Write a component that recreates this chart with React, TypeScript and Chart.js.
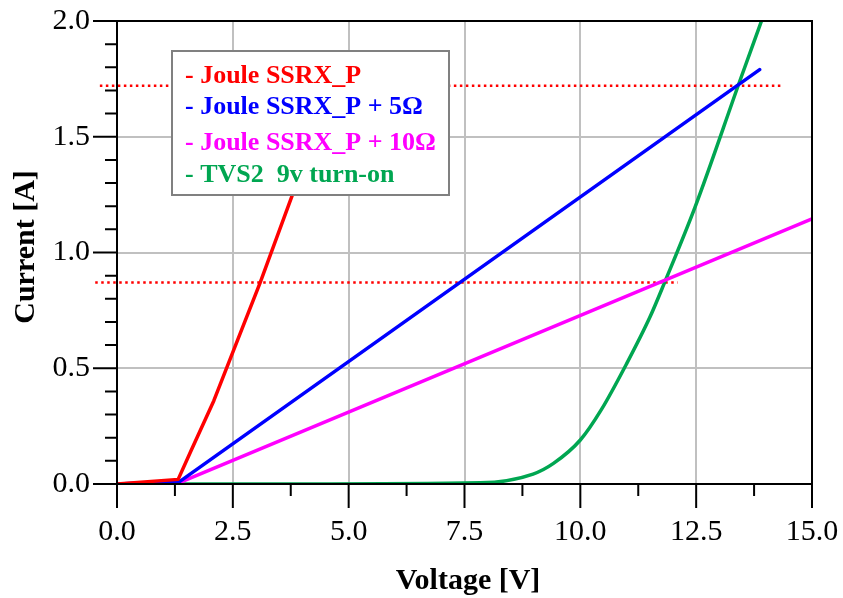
import React, { useEffect, useRef } from 'react';
import { Chart, registerables } from 'chart.js';

Chart.register(...registerables);

// ---- Data (Voltage [V] vs Current [A]) ----
const redV = [0, 1.32, 1.6, 2.09, 2.6, 3.09, 3.77, 4.6];
const redI = [0, 0.02, 0.145, 0.36, 0.62, 0.87, 1.24, 1.7];

const blueV = [0, 1.35, 13.87];
const blueI = [0, 0.01, 1.79];

const magentaV = [0, 1.4, 15.0];
const magentaI = [0, 0.01, 1.145];

const greenV = [0, 4.0, 7.84, 8.98, 9.42, 10.0, 10.45, 11.0, 11.5, 11.82, 12.48, 13.45, 13.91];
const greenI = [0, 0, 0.005, 0.043, 0.089, 0.19, 0.32, 0.52, 0.72, 0.871, 1.198, 1.745, 2.0];

// dotted reference levels
const refHighV = [-0.37, 14.38];
const refHighI = [1.72, 1.72];
const refLowV = [-0.47, 12.1];
const refLowI = [0.87, 0.87];

const legendLabels = [
  '- Joule SSRX_P',
  '- Joule SSRX_P + 5\u03A9',
  '- Joule SSRX_P + 10\u03A9',
  '- TVS2  9v turn-on',
];

const RED = '#ff0000';
const BLUE = '#0000ff';
const MAGENTA = '#ff00ff';
const GREEN = '#00a651';
const legendColors = [RED, BLUE, MAGENTA, GREEN];

const X_MIN = 0, X_MAX = 15, X_MAJOR = 2.5, X_MINOR = 1.25;
const Y_MIN = 0, Y_MAX = 2.0, Y_MAJOR = 0.5, Y_MINOR = 0.1;

const SERIF = '"Liberation Serif", "Times New Roman", serif';

const isMult = (v: number, s: number) => Math.abs(v / s - Math.round(v / s)) < 1e-6;

const pts = (xs: number[], ys: number[]) => xs.map((x, i) => ({ x, y: ys[i] }));

const decorPlugin = {
  id: 'decor',
  afterDatasetsDraw(chart: any) {
    const { ctx, chartArea } = chart;
    const { left, top, right, bottom } = chartArea;
    ctx.save();
    // frame
    ctx.strokeStyle = '#000';
    ctx.lineWidth = 2;
    ctx.strokeRect(left, top, right - left, bottom - top);

    // legend box
    const bx = 172, by = 51, bw = 277, bh = 144;
    ctx.fillStyle = '#fff';
    ctx.fillRect(bx, by, bw, bh);
    ctx.strokeStyle = '#808080';
    ctx.lineWidth = 2;
    ctx.strokeRect(bx, by, bw, bh);
    ctx.font = `bold 26px ${SERIF}`;
    ctx.textAlign = 'left';
    ctx.textBaseline = 'alphabetic';
    const baselines = [83, 114, 150, 182];
    legendLabels.forEach((t, i) => {
      ctx.fillStyle = legendColors[i];
      ctx.fillText(t, 185, baselines[i]);
    });
    ctx.restore();
  },
  afterDraw(chart: any) {
    const { ctx, chartArea, scales } = chart;
    const { left, bottom } = chartArea;
    ctx.save();
    ctx.strokeStyle = '#000';
    ctx.lineWidth = 2;
    ctx.beginPath();
    scales.x.ticks.forEach((t: any) => {
      const px = scales.x.getPixelForValue(t.value);
      const len = isMult(t.value, X_MAJOR) ? 24 : 12;
      ctx.moveTo(px, bottom);
      ctx.lineTo(px, bottom + len);
    });
    scales.y.ticks.forEach((t: any) => {
      const py = scales.y.getPixelForValue(t.value);
      const len = isMult(t.value, Y_MAJOR) ? 24 : 12;
      ctx.moveTo(left, py);
      ctx.lineTo(left - len, py);
    });
    ctx.stroke();

    // axis titles
    ctx.fillStyle = '#000';
    ctx.font = `bold 30px ${SERIF}`;
    ctx.textAlign = 'center';
    ctx.textBaseline = 'alphabetic';
    ctx.fillText('Voltage [V]', 468, 589);
    ctx.translate(34, 247);
    ctx.rotate(-Math.PI / 2);
    ctx.fillText('Current [A]', 0, 0);
    ctx.restore();
  },
};

export default function App() {
  const ref = useRef<HTMLCanvasElement>(null);

  useEffect(() => {
    document.body.style.margin = '0';
    const canvas = ref.current!;
    const line = (label: string, xs: number[], ys: number[], color: string, extra: any = {}) => ({
      label,
      data: pts(xs, ys),
      borderColor: color,
      backgroundColor: color,
      borderWidth: 3.5,
      pointRadius: 0,
      fill: false,
      tension: 0,
      borderCapStyle: 'round',
      borderJoinStyle: 'round',
      ...extra,
    });
    const chart = new Chart(canvas, {
      type: 'line',
      data: {
        datasets: [
          line('Joule SSRX_P', redV, redI, RED),
          line('Joule SSRX_P + 5\u03A9', blueV, blueI, BLUE),
          line('Joule SSRX_P + 10\u03A9', magentaV, magentaI, MAGENTA),
          line('TVS2 9v turn-on', greenV, greenI, GREEN, { cubicInterpolationMode: 'monotone' }),
          line('ref high', refHighV, refHighI, RED, { borderWidth: 2.5, borderDash: [2.5, 3.5], borderCapStyle: 'butt', clip: false }),
          line('ref low', refLowV, refLowI, RED, { borderWidth: 2.5, borderDash: [2.5, 3.5], borderCapStyle: 'butt', clip: false }),
        ] as any,
      },
      options: {
        animation: false,
        responsive: false,
        maintainAspectRatio: false,
        layout: { autoPadding: false, padding: { top: 21, right: 31, left: 0, bottom: 0 } },
        plugins: { legend: { display: false }, tooltip: { enabled: false } },
        scales: {
          x: {
            type: 'linear',
            min: X_MIN,
            max: X_MAX,
            afterFit: (s: any) => { s.height = 114; s.paddingLeft = 0; s.paddingRight = 0; },
            border: { display: false },
            grid: {
              drawTicks: false,
              lineWidth: 2,
              color: (c: any) => (c.tick && isMult(c.tick.value, X_MAJOR) && c.tick.value > X_MIN && c.tick.value < X_MAX ? '#c0c0c0' : 'rgba(0,0,0,0)'),
            },
            ticks: {
              stepSize: X_MINOR,
              autoSkip: false,
              maxRotation: 0,
              padding: 30,
              color: '#000',
              font: { family: SERIF, size: 30 },
              callback: (v: any) => (isMult(Number(v), X_MAJOR) ? Number(v).toFixed(1) : ''),
            },
          },
          y: {
            type: 'linear',
            min: Y_MIN,
            max: Y_MAX,
            afterFit: (s: any) => { s.width = 117; s.paddingTop = 0; s.paddingBottom = 0; },
            border: { display: false },
            grid: {
              drawTicks: false,
              lineWidth: 2,
              color: (c: any) => (c.tick && isMult(c.tick.value, Y_MAJOR) && c.tick.value > Y_MIN && c.tick.value < Y_MAX ? '#c0c0c0' : 'rgba(0,0,0,0)'),
            },
            ticks: {
              stepSize: Y_MINOR,
              autoSkip: false,
              padding: 27,
              color: '#000',
              font: { family: SERIF, size: 30 },
              callback: (v: any) => (isMult(Number(v), Y_MAJOR) ? Number(v).toFixed(1) : ''),
            },
          },
        },
      } as any,
      plugins: [decorPlugin],
    });
    return () => chart.destroy();
  }, []);

  return (
    <div style={{ position: 'fixed', left: 0, top: 0, width: 843, height: 598 }}>
      <canvas ref={ref} width={843} height={598} style={{ display: 'block' }} />
    </div>
  );
}
